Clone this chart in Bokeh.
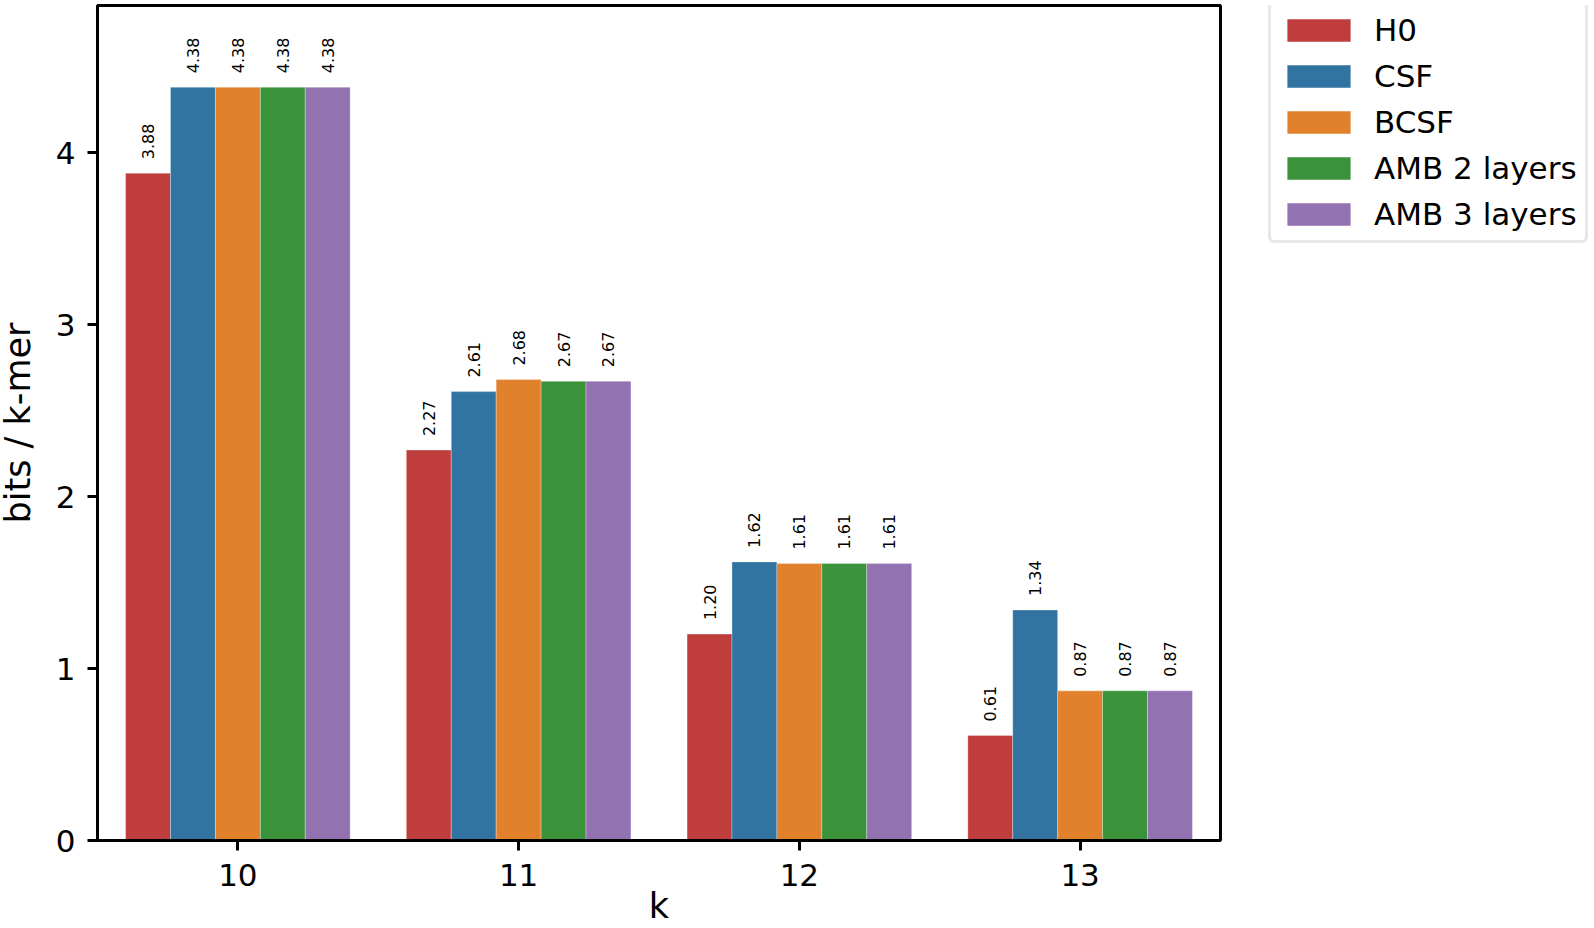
import math
from bokeh.plotting import figure
from bokeh.layouts import row
from bokeh.models import (FactorRange, Range1d, ColumnDataSource, Legend, LegendItem,
                          FixedTicker)
from bokeh.transform import dodge
from bokeh.core.properties import value
from bokeh.embed import file_html
from bokeh.resources import INLINE

# ---- data ----
ks = ["10", "11", "12", "13"]
series = ["H0", "CSF", "BCSF", "AMB 2 layers", "AMB 3 layers"]
h0 = [3.88, 2.27, 1.20, 0.61]
csf = [4.38, 2.61, 1.62, 1.34]
bcsf = [4.38, 2.68, 1.61, 0.87]
amb2 = [4.38, 2.67, 1.61, 0.87]
amb3 = [4.38, 2.67, 1.61, 0.87]
colors = ["#c03d3e", "#3274a1", "#e1812c", "#3a923a", "#9372b2"]
y_ticks = [0, 1, 2, 3, 4]
x_label = "k"
y_label = "bits / k-mer"

values = [h0, csf, bcsf, amb2, amb3]
FONT = "DejaVu Sans"

data = {"k": ks}
for j, vals in enumerate(values):
    data[f"s{j}"] = vals
    data[f"t{j}"] = [f"{v:.2f}" for v in vals]
src = ColumnDataSource(data)

# ---- main chart ----
p = figure(width=1230, height=928,
           x_range=FactorRange(*ks, range_padding=0),
           y_range=Range1d(0, 4.855),
           output_backend="svg", toolbar_location=None,
           min_border_left=104, min_border_right=3,
           min_border_top=5, min_border_bottom=88,
           margin=(0, 0, 0, -7))

p.xgrid.visible = False
p.ygrid.visible = False
p.outline_line_color = "black"
p.outline_line_width = 3
p.background_fill_color = "white"
p.border_fill_color = "white"

bw = 0.16
for j in range(len(series)):
    off = (j - 2) * bw
    p.vbar(x=dodge("k", off, range=p.x_range), top=f"s{j}", width=bw, source=src,
           fill_color=colors[j], line_color="white", line_width=0.6, line_alpha=0.5)
    p.text(x=dodge("k", off, range=p.x_range), y=f"s{j}", text=f"t{j}", source=src,
           angle=math.pi / 2, text_align="left", text_baseline="middle", y_offset=-14,
           text_font=value(FONT), text_font_size="16px", text_color="black")

for ax in (p.xaxis[0], p.yaxis[0]):
    ax.axis_line_width = 3
    ax.axis_line_color = "black"
    ax.major_tick_line_width = 3
    ax.major_tick_line_color = "black"
    ax.major_tick_out = 10
    ax.major_tick_in = 0
    ax.minor_tick_out = 0
    ax.minor_tick_in = 0
    ax.major_label_text_font = FONT
    ax.major_label_text_font_size = "31px"
    ax.major_label_text_color = "black"
    ax.axis_label_text_font = FONT
    ax.axis_label_text_font_size = "35px"
    ax.axis_label_text_font_style = "normal"
    ax.axis_label_text_color = "black"

p.xaxis.axis_label = x_label
p.yaxis.axis_label = y_label
p.xaxis.major_label_standoff = 13
p.xaxis.axis_label_standoff = -3
p.yaxis.major_label_standoff = 12
p.yaxis.axis_label_standoff = 15
p.yaxis.ticker = FixedTicker(ticks=y_ticks)

# ---- legend panel (zero-width bars only feed the legend swatches) ----
lg = figure(width=371, height=928, x_range=FactorRange(*ks, range_padding=0),
            y_range=Range1d(0, 4.855),
            output_backend="svg", toolbar_location=None,
            x_axis_type=None, y_axis_type=None, min_border=0)
lg.xgrid.visible = False
lg.ygrid.visible = False
lg.outline_line_color = None
lg.background_fill_color = "white"
lg.border_fill_color = "white"

items = []
for j in range(len(series)):
    r = lg.vbar(x="k", top=f"s{j}", width=0, source=src, fill_color=colors[j],
                line_color=None)
    items.append(LegendItem(label=series[j], renderers=[r]))

legend = Legend(items=items, location=(45, 597))
legend.label_text_font = FONT
legend.label_text_font_size = "31px"
legend.label_text_color = "black"
legend.glyph_width = 79
legend.glyph_height = 28
legend.label_height = 35
legend.label_standoff = 16
legend.spacing = 10
legend.padding = 8
legend.margin = 0
legend.border_line_color = "#d0d0d0"
legend.border_line_width = 3
legend.background_fill_color = "white"
legend.background_fill_alpha = 1.0
try:
    legend.border_radius = 6
except Exception:
    pass
lg.add_layout(legend)

layout = row(p, lg)
open("out.html", "w").write(file_html(layout, INLINE))
